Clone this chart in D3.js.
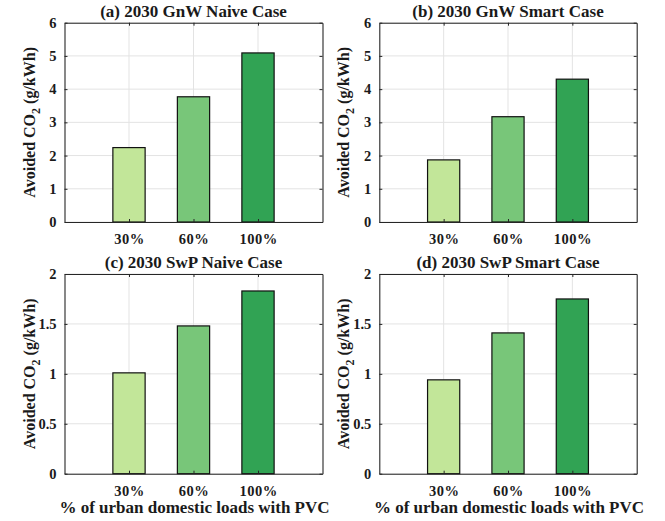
<!DOCTYPE html>
<html>
<head>
<meta charset="utf-8">
<script src="https://cdn.jsdelivr.net/npm/d3@7"></script>
<style>
  body { margin: 0; background: #fff; }
</style>
</head>
<body>
<svg id="chart" width="665" height="521" font-family="'Liberation Serif', 'Times New Roman', serif" font-weight="bold"></svg>
<script>
// Categories and bar colours shared by all four panels
const categories = ["30%", "60%", "100%"];
const barColors = ["#c2e699", "#78c679", "#31a354"];

// Panel titles
const titles = [
  "(a) 2030 GnW Naive Case",
  "(b) 2030 GnW Smart Case",
  "(c) 2030 SwP Naive Case",
  "(d) 2030 SwP Smart Case"
];

// Avoided CO2 per panel (g/kWh)
const gnwNaive = [2.24, 3.77, 5.09];
const gnwSmart = [1.87, 3.17, 4.30];
const swpNaive = [1.01, 1.48, 1.83];
const swpSmart = [0.94, 1.41, 1.75];

// y-axis tick labels for the two rows
const gnwTicks = ["0", "1", "2", "3", "4", "5", "6"];
const swpTicks = ["0", "0.5", "1", "1.5", "2"];

const xLabelText = "% of urban domestic loads with PVC";

const FONT = "'Liberation Serif', 'Times New Roman', serif";

const panels = [
  { title: titles[0], values: gnwNaive, ticks: gnwTicks, ymax: 6, box: [64.5, 22.7, 322.5, 222], xlabel: false },
  { title: titles[1], values: gnwSmart, ticks: gnwTicks, ymax: 6, box: [379.3, 22.7, 636.7, 222], xlabel: false },
  { title: titles[2], values: swpNaive, ticks: swpTicks, ymax: 2, box: [64.5, 274, 322.5, 473.7], xlabel: true },
  { title: titles[3], values: swpSmart, ticks: swpTicks, ymax: 2, box: [379.3, 274, 636.7, 473.7], xlabel: true }
];

const svg = d3.select("#chart");
const axisColor = "#262626";
const textColor = "#1a1a1a";

panels.forEach(p => {
  const [x0, y0, x1, y1] = p.box;
  const g = svg.append("g");

  // categories sit at 1..3 on a 0..4 numeric range
  const x = d3.scaleLinear().domain([0, 4]).range([x0, x1]);
  const y = d3.scaleLinear().domain([0, p.ymax]).range([y1, y0]);
  const barW = x(0.5) - x(0);
  const tickVals = p.ticks.map(Number);

  // grid
  g.append("g").selectAll("line").data(tickVals).join("line")
    .attr("x1", x0).attr("x2", x1)
    .attr("y1", d => y(d)).attr("y2", d => y(d))
    .attr("stroke", "#e3e3e3").attr("stroke-width", 1);
  g.append("g").selectAll("line").data(categories).join("line")
    .attr("x1", (d, i) => x(i + 1)).attr("x2", (d, i) => x(i + 1))
    .attr("y1", y0).attr("y2", y1)
    .attr("stroke", "#e3e3e3").attr("stroke-width", 1);

  // bars
  g.append("g").selectAll("rect").data(p.values).join("rect")
    .attr("x", (d, i) => x(i + 1) - barW / 2)
    .attr("y", d => y(d))
    .attr("width", barW)
    .attr("height", d => y(0) - y(d))
    .attr("fill", (d, i) => barColors[i])
    .attr("stroke", "#111").attr("stroke-width", 1.2);

  // axes: left and bottom with labels, right and top mirrored
  const yAxis = d3.axisLeft(y).tickValues(tickVals)
    .tickFormat((d, i) => p.ticks[i]).tickSizeInner(-3).tickSizeOuter(0).tickPadding(8);
  const gy = g.append("g").attr("transform", `translate(${x0},0)`).call(yAxis);
  const xAxis = d3.axisBottom(x).tickValues([1, 2, 3])
    .tickFormat((d, i) => categories[i]).tickSizeInner(-3).tickSizeOuter(0).tickPadding(12);
  const gx = g.append("g").attr("transform", `translate(0,${y1})`).call(xAxis);
  const yAxisR = d3.axisRight(y).tickValues(tickVals).tickFormat("").tickSizeInner(-3).tickSizeOuter(0);
  const gyr = g.append("g").attr("transform", `translate(${x1},0)`).call(yAxisR);
  const xAxisT = d3.axisTop(x).tickValues([1, 2, 3]).tickFormat("").tickSizeInner(-3).tickSizeOuter(0);
  const gxt = g.append("g").attr("transform", `translate(0,${y0})`).call(xAxisT);

  [gy, gx, gyr, gxt].forEach(ax => {
    ax.attr("font-family", FONT).attr("font-weight", "bold").attr("font-size", 14.5);
    ax.select(".domain").attr("stroke", axisColor).attr("stroke-width", 1.1);
    ax.selectAll(".tick line").attr("stroke", axisColor).attr("stroke-width", 1);
    ax.selectAll(".tick text").attr("fill", textColor);
  });
  gx.selectAll(".tick text").attr("letter-spacing", 0.5);

  // title
  g.append("text")
    .attr("x", (x0 + x1) / 2).attr("y", y0 - 6)
    .attr("text-anchor", "middle").attr("font-size", 17).attr("fill", textColor)
    .text(p.title);

  // y label with subscript
  const yl = g.append("text")
    .attr("transform", `translate(${x0 - 30},${(y0 + y1) / 2}) rotate(-90)`)
    .attr("text-anchor", "middle").attr("font-size", 16).attr("fill", textColor);
  yl.append("tspan").text("Avoided CO");
  yl.append("tspan").attr("font-size", 12).attr("dy", 5).text("2");
  yl.append("tspan").attr("dy", -5).text(" (g/kWh)");

  if (p.xlabel) {
    g.append("text")
      .attr("x", (x0 + x1) / 2 + 1).attr("y", y1 + 39)
      .attr("text-anchor", "middle").attr("font-size", 17).attr("fill", textColor)
      .text(xLabelText);
  }
});
</script>
</body>
</html>
